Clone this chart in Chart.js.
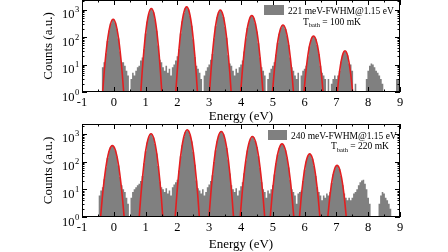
<!DOCTYPE html>
<html>
<head>
<meta charset="utf-8">
<script src="https://cdn.jsdelivr.net/npm/chart.js@4.4.1/dist/chart.umd.min.js"></script>
<style>
html,body{margin:0;padding:0;background:#fff;overflow:hidden;}
canvas{position:absolute;left:0;}
#top{top:0}
#bot{top:124px}
</style>
</head>
<body>
<canvas id="top" width="448" height="124"></canvas>
<canvas id="bot" width="448" height="128"></canvas>
<script>
// histogram bins: centres from -1 to 9 eV, 0.05 eV wide
const binCenters = Array.from({length: 201}, (_, i) => +(-1 + i * 0.05).toFixed(2));

// counts per bin, one row per eV
const topCounts = [
  0,0,0,0,0,0,0,0,0,0,0,0,0,8,12,25,72,174,310,425,
  436,340,200,89,30,12,12,9,6,4,0,3,5,4,6,8,9,14,18,36,
  136,370,725,1030,1070,800,435,171,49,15,12,8,6,9,5,7,4,8,10,14,
  20,36,135,375,760,1140,1250,1000,600,260,83,19,9,7,5,3,0,4,6,8,
  10,15,24,89,250,525,825,955,810,540,240,95,22,11,9,6,4,7,5,8,
  10,14,30,91,216,395,555,600,500,320,158,60,18,8,6,4,0,3,5,7,
  9,12,23,62,131,214,270,263,198,115,51,18,8,6,4,3,5,0,4,6,
  7,9,20,45,79,105,107,85,52,24,9,5,4,3,0,3,0,2,3,4,
  3,4,6,13,24,31,30,22,11,10,6,0,2,0,0,0,0,0,0,3,
  6,9,11,10,8,6,5,4,3,2,0,0,0,0,0,0,0,0,3,3,
  3
];
const botCounts = [
  0,0,0,0,0,0,0,0,0,0,0,6,9,12,23,61,134,236,333,380,
  348,257,152,73,28,14,10,8,5,3,0,5,8,10,12,14,16,20,30,88,
  237,493,795,1000,980,740,435,198,70,19,12,10,8,11,7,9,6,12,15,18,
  22,48,155,390,770,1180,1410,1310,940,530,230,78,21,11,9,7,10,6,8,12,
  15,20,32,97,260,548,905,1180,1200,975,615,308,120,37,14,10,8,11,6,9,
  13,18,38,110,255,470,690,810,755,560,335,158,60,18,10,8,5,9,7,10,
  14,34,88,182,305,405,435,373,256,141,62,22,10,8,6,3,7,8,9,20,
  51,102,159,190,175,126,70,30,12,8,6,4,6,5,7,6,8,17,35,58,
  72,71,54,31,14,7,5,4,5,4,5,7,8,10,14,18,21,22,16,10,
  5,3,0,0,0,0,0,3,6,8,7,5,4,3,2,0,0,0,0,0,
  0
];

// Gaussian fits (red)
const topFitE = [
  [-0.35,-0.309,-0.268,-0.185,-0.103,-0.02,0.063,0.145,0.228,0.269,0.31],
  [0.85,0.891,0.933,1.015,1.098,1.18,1.263,1.345,1.428,1.469,1.51],
  [1.95,1.993,2.035,2.12,2.205,2.29,2.375,2.46,2.545,2.588,2.63],
  [3.01,3.053,3.095,3.18,3.265,3.35,3.435,3.52,3.605,3.648,3.69],
  [3.99,4.034,4.078,4.165,4.253,4.34,4.428,4.515,4.603,4.646,4.69],
  [4.99,5.031,5.073,5.155,5.238,5.32,5.403,5.485,5.568,5.609,5.65],
  [5.98,6.018,6.055,6.13,6.205,6.28,6.355,6.43,6.505,6.543,6.58],
  [7.03,7.06,7.09,7.15,7.21,7.27,7.33,7.39,7.45,7.48,7.51]
];
const topFitN = [
  [1,4.2,14.5,97,303,447,303,97,14.5,4.2,1],
  [1,5.1,21.4,191,708,1096,708,191,21.4,5.1,1],
  [1,5.3,22.7,211,805,1259,805,211,22.7,5.3,1],
  [1,5.0,20.1,172,622,955,622,172,20.1,5.0,1],
  [1,4.5,16.4,122,404,603,404,122,16.4,4.5,1],
  [1,3.7,11.7,68,194,275,194,68,11.7,3.7,1],
  [1,3.0,7.8,33.9,81.7,110,81.7,33.9,7.8,3.0,1],
  [1,2.2,4.5,13.3,25.5,31.6,25.5,13.3,4.5,2.2,1]
];
const botFitE = [
  [-0.415,-0.369,-0.323,-0.23,-0.138,-0.045,0.048,0.14,0.233,0.279,0.325],
  [0.80,0.846,0.893,0.985,1.078,1.17,1.263,1.355,1.448,1.494,1.54],
  [1.93,1.978,2.025,2.12,2.215,2.31,2.405,2.50,2.595,2.643,2.69],
  [2.995,3.043,3.091,3.188,3.284,3.38,3.476,3.573,3.669,3.717,3.765],
  [3.975,4.023,4.071,4.168,4.264,4.36,4.456,4.553,4.649,4.697,4.745],
  [4.92,4.966,5.013,5.105,5.198,5.29,5.383,5.475,5.568,5.614,5.66],
  [5.84,5.88,5.92,6.00,6.08,6.16,6.24,6.32,6.40,6.44,6.48],
  [6.73,6.766,6.803,6.875,6.948,7.02,7.093,7.165,7.238,7.274,7.31]
];
const botFitN = [
  [1,4.0,13.4,86,262,380,262,86,13.4,4.0,1],
  [1,5.1,20.7,181,664,1023,664,181,20.7,5.1,1],
  [1,5.5,23.9,230,898,1413,898,230,23.9,5.5,1],
  [1,5.3,22.5,208,789,1230,789,208,22.5,5.3,1],
  [1,4.8,18.8,152,535,813,535,152,18.8,4.8,1],
  [1,4.1,14.3,95,299,437,299,95,14.3,4.1,1],
  [1,3.4,9.9,51,137,191,137,51,9.9,3.4,1],
  [1,2.7,6.6,25.3,56.6,74,56.6,25.3,6.6,2.7,1]
];

const yDecades = [1, 10, 100, 1000];
const yExponents = ['0', '1', '2', '3'];
const topLegend = ['221 meV-FWHM@1.15 eV', 'T', 'bath', ' = 100 mK'];
const botLegend = ['240 meV-FWHM@1.15 eV', 'T', 'bath', ' = 220 mK'];

const SERIF = '"Liberation Serif", "Times New Roman", serif';
const GRAY = 'rgb(128,128,128)';
const RED = 'rgb(228,30,32)';

const frame = {
  id: 'frame',
  afterDatasetsDraw(chart, args, opts) {
    const {ctx, chartArea: a, scales: {x, y}} = chart;
    ctx.save();
    ctx.strokeStyle = '#000';
    ctx.lineWidth = 1;
    ctx.strokeRect(a.left + 0.5, a.top + 0.5, a.right - a.left - 1, a.bottom - a.top - 1);
    ctx.beginPath();
    for (let v = -1; v <= 9; v += 0.5) {
      const px = Math.round(x.getPixelForValue(v)) + 0.5;
      const len = Number.isInteger(v) ? 5 : 2.5;
      ctx.moveTo(px, a.bottom); ctx.lineTo(px, a.bottom - len);
      ctx.moveTo(px, a.top); ctx.lineTo(px, a.top + len);
    }
    yDecades.forEach(d => {
      for (let m = 1; m <= 9; m++) {
        const v = d * m;
        if (v > y.max) break;
        const py = Math.round(y.getPixelForValue(v)) + 0.5;
        const len = m === 1 ? 5 : 2.5;
        ctx.moveTo(a.left, py); ctx.lineTo(a.left + len, py);
        ctx.moveTo(a.right, py); ctx.lineTo(a.right - len, py);
      }
    });
    ctx.stroke();

    // y tick labels 10^n
    ctx.fillStyle = '#000';
    yDecades.forEach((v, i) => {
      const py = y.getPixelForValue(v);
      ctx.font = '12.5px ' + SERIF;
      ctx.textAlign = 'right';
      ctx.fillText('10', 74.5, py + 8.5);
      ctx.font = '8.5px ' + SERIF;
      ctx.textAlign = 'left';
      ctx.fillText(yExponents[i], 75, py + 2.5);
    });

    // legend
    const t = opts.text;
    ctx.fillStyle = GRAY;
    ctx.fillRect(opts.box[0], opts.box[1], opts.box[2], opts.box[3]);
    ctx.fillStyle = '#000';
    ctx.textAlign = 'left';
    ctx.font = '9.5px ' + SERIF;
    ctx.fillText(t[0], opts.line1[0], opts.line1[1]);
    let lx = opts.line2[0];
    const ly = opts.line2[1];
    ctx.fillText(t[1], lx, ly);
    lx += ctx.measureText(t[1]).width;
    ctx.font = '6.5px ' + SERIF;
    ctx.fillText(t[2], lx, ly + 2.5);
    lx += ctx.measureText(t[2]).width;
    ctx.font = '9.5px ' + SERIF;
    ctx.fillText(t[3], lx, ly);
    ctx.restore();
  }
};

function makeChart(id, counts, fitE, fitN, yMax, axisH, legend) {
  const datasets = [{
    data: binCenters.map((e, i) => ({x: e, y: counts[i] > 0 ? counts[i] : 0.5})),
    stepped: 'middle',
    fill: 'start',
    backgroundColor: GRAY,
    borderColor: 'rgba(0,0,0,0)',
    borderWidth: 0,
    pointRadius: 0,
    clip: 0,
    order: 1
  }];
  fitE.forEach((es, k) => {
    datasets.push({
      data: es.map((e, i) => ({x: e, y: fitN[k][i]})),
      borderColor: RED,
      borderWidth: 1.6,
      pointRadius: 0,
      fill: false,
      cubicInterpolationMode: 'monotone',
      clip: 0,
      order: 0
    });
  });
  return new Chart(document.getElementById(id), {
    type: 'line',
    data: {datasets},
    options: {
      responsive: false,
      animation: false,
      events: [],
      layout: {padding: {left: 0, right: 48, top: 0, bottom: 0}},
      plugins: {legend: {display: false}, tooltip: {enabled: false}, frame: legend},
      scales: {
        x: {
          type: 'linear', min: -1, max: 9,
          grid: {display: false, drawTicks: false},
          border: {display: false},
          ticks: {stepSize: 1, autoSkip: false, maxRotation: 0, padding: 3.5, color: '#000',
                  font: {family: SERIF, size: 12.5}, callback: v => String(v)},
          title: {display: true, text: 'Energy (eV)', color: '#000',
                  font: {family: SERIF, size: 13}, padding: {top: 0, bottom: 0}},
          afterFit: s => { s.height = axisH; }
        },
        y: {
          type: 'logarithmic', min: 1, max: yMax,
          grid: {display: false, drawTicks: false},
          border: {display: false},
          ticks: {display: false},
          title: {display: true, text: 'Counts (a.u.)', color: '#000',
                  font: {family: SERIF, size: 13}, padding: {top: 41, bottom: 0}},
          afterFit: s => { s.width = 82; }
        }
      }
    },
    plugins: [frame]
  });
}

makeChart('top', topCounts, topFitE, topFitN, 2240, 32,
  {text: topLegend, box: [264, 5, 20, 10], line1: [288, 13.8], line2: [303, 24.6]});
makeChart('bot', botCounts, botFitE, botFitN, 2290, 35,
  {text: botLegend, box: [268, 6, 19, 10], line1: [291, 14.6], line2: [331, 25.4]});
</script>
</body>
</html>
